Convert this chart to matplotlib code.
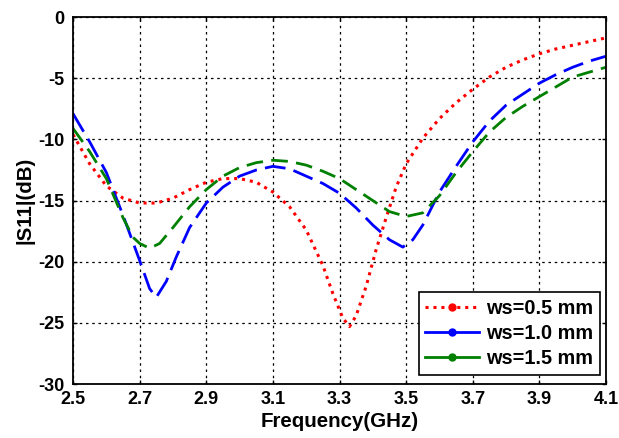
import matplotlib
matplotlib.use('Agg')
from matplotlib import pyplot as plt
from matplotlib.lines import Line2D

plt.rcParams['font.family'] = ['Liberation Sans', 'DejaVu Sans']
plt.rcParams['font.weight'] = 'bold'

# ws = 0.5 mm
f_05 = [2.50, 2.55, 2.60, 2.65, 2.70, 2.75, 2.80, 2.85, 2.90, 2.95, 3.00, 3.05,
        3.10, 3.15, 3.20, 3.25, 3.28, 3.31, 3.33, 3.35, 3.38, 3.41, 3.44, 3.47,
        3.50, 3.55, 3.60, 3.65, 3.70, 3.75, 3.80, 3.85, 3.90, 3.95, 4.00, 4.05, 4.10]
s_05 = [-9.6, -12.0, -13.8, -14.8, -15.2, -15.2, -14.8, -14.1, -13.5, -13.2, -13.2, -13.5,
        -14.3, -15.5, -17.4, -20.3, -22.6, -24.6, -25.3, -24.4, -22.0, -19.0, -16.4, -13.9,
        -12.0, -9.9, -8.3, -7.0, -5.9, -4.9, -4.1, -3.5, -3.0, -2.6, -2.3, -2.0, -1.7]

# ws = 1.0 mm
f_10 = [2.50, 2.55, 2.60, 2.65, 2.70, 2.73, 2.75, 2.78, 2.81, 2.85, 2.90, 2.95,
        3.00, 3.05, 3.10, 3.15, 3.20, 3.25, 3.30, 3.35, 3.40, 3.45, 3.49, 3.52,
        3.55, 3.60, 3.65, 3.70, 3.75, 3.80, 3.85, 3.90, 3.95, 4.00, 4.05, 4.10]
s_10 = [-7.9, -10.2, -12.7, -16.2, -19.9, -22.2, -22.9, -21.6, -19.6, -17.2, -15.2, -13.9,
        -13.0, -12.5, -12.2, -12.4, -13.0, -13.6, -14.4, -15.6, -17.0, -18.2, -18.8, -18.2,
        -17.0, -14.3, -12.2, -10.2, -8.5, -7.2, -6.3, -5.4, -4.7, -4.1, -3.6, -3.2]

# ws = 1.5 mm
f_15 = [2.50, 2.55, 2.60, 2.65, 2.68, 2.70, 2.73, 2.76, 2.80, 2.85, 2.90, 2.95,
        3.00, 3.05, 3.10, 3.15, 3.20, 3.25, 3.30, 3.35, 3.40, 3.45, 3.50, 3.55,
        3.60, 3.65, 3.70, 3.75, 3.80, 3.85, 3.90, 3.95, 4.00, 4.05, 4.10]
s_15 = [-9.1, -11.0, -13.2, -16.4, -18.0, -18.5, -18.9, -18.5, -17.2, -15.5, -14.1, -13.0,
        -12.3, -11.9, -11.7, -11.8, -12.1, -12.6, -13.2, -14.1, -15.0, -15.9, -16.3, -16.0,
        -14.6, -12.7, -11.0, -9.4, -8.2, -7.3, -6.5, -5.7, -4.9, -4.5, -4.1]

labels = ['ws=0.5 mm', 'ws=1.0 mm', 'ws=1.5 mm']
xticks = [2.5, 2.7, 2.9, 3.1, 3.3, 3.5, 3.7, 3.9, 4.1]
yticks = [0, -5, -10, -15, -20, -25, -30]

fig = plt.figure(figsize=(6.19, 4.38), dpi=100)
ax = fig.add_axes([0.118, 0.123, 0.861, 0.838])

dot = (0, (1, 1.6))
ax.plot(f_05, s_05, color='#ff0000', lw=2.2, linestyle=dot)
ax.plot(f_10, s_10, color='#0000ff', lw=2.0, dashes=(7.5, 3))
ax.plot(f_15, s_15, color='#008000', lw=2.0, dashes=(6, 3))

ax.set_xlim(2.5, 4.1)
ax.set_ylim(-30, 0)
ax.set_xticks(xticks)
ax.set_yticks(yticks)
ax.set_xticklabels([str(t) for t in xticks])
ax.set_yticklabels([str(t) for t in yticks])
ax.tick_params(direction='in', top=True, right=True, length=3, width=1,
               labelsize=13)
ax.tick_params(axis='x', pad=5)
ax.tick_params(axis='y', pad=6)
ax.grid(True, color='black', linestyle=(0, (2, 3)), lw=0.9)
for sp in ax.spines.values():
    sp.set_linewidth(1.3)

ax.set_xlabel('Frequency(GHz)', fontsize=14.8, fontweight='bold', labelpad=3)
ax.set_ylabel('|S11|(dB)', fontsize=14.8, fontweight='bold', labelpad=3)

handles = [
    Line2D([], [], color='#ff0000', lw=2.2, linestyle=dot, marker='.', markersize=10),
    Line2D([], [], color='#0000ff', lw=2.0, marker='.', markersize=10),
    Line2D([], [], color='#008000', lw=2.0, marker='.', markersize=10),
]
leg = ax.legend(handles, labels, loc='lower right', bbox_to_anchor=(0.989, 0.025),
                borderaxespad=0, fontsize=14.3, handlelength=2.7, handletextpad=0.35,
                labelspacing=0.3, borderpad=0.35, fancybox=False,
                edgecolor='black', framealpha=1)
leg.get_frame().set_linewidth(1.2)
for t in leg.get_texts():
    t.set_fontweight('bold')

fig.savefig('out.png', dpi=100)
